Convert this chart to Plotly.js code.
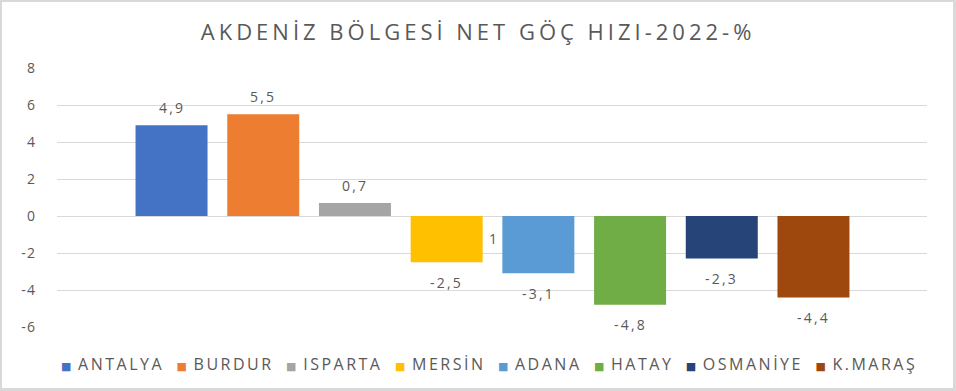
<!DOCTYPE html>
<html>
<head>
<meta charset="utf-8">
<script src="https://cdn.plot.ly/plotly-3.0.1.min.js"></script>
<style>
  html, body { margin: 0; padding: 0; background: #ffffff; }
  #wrap { position: relative; width: 956px; height: 391px; }
  #chart { width: 956px; height: 391px; }
  #frame { position: absolute; left: 0; top: 0; width: 956px; height: 391px; box-sizing: border-box;
           border: 2px solid #d9d9d9; border-right-width: 3px; border-bottom-width: 3px; pointer-events: none; }
  #chart .ytick text { letter-spacing: 1.2px; }
</style>
</head>
<body>
<div id="wrap"><div id="chart"></div><div id="frame"></div></div>
<script>
// ---- data ----
const categories = ['ANTALYA', 'BURDUR', 'ISPARTA', 'MERSİN', 'ADANA', 'HATAY', 'OSMANİYE', 'K.MARAŞ'];
const values = [4.9, 5.5, 0.7, -2.5, -3.1, -4.8, -2.3, -4.4];
const colors = ['#4472C4', '#ED7D31', '#A5A5A5', '#FFC000', '#5B9BD5', '#70AD47', '#264478', '#9E480E'];
const tickValues = [-6, -4, -2, 0, 2, 4, 6, 8];
const tickLabels = ['-6', '-4', '-2', '0', '2', '4', '6', '8'];
const titleText = 'AKDENİZ BÖLGESİ NET GÖÇ HIZI-2022-%';
const strayLabelText = '1';
const strayLabelX = 3.5;
const strayLabelY = -1.19;

const textColor = '#595959';
const fontFamily = '"Open Sans", "DejaVu Sans", sans-serif';

const traces = categories.map((c, i) => ({
  type: 'bar',
  name: c,
  x: [c],
  y: [values[i]],
  marker: { color: colors[i] },
  hoverinfo: 'name+y',
  showlegend: false
}));

const fmt = v => String(v).replace('.', ',');
const spaced = (t, px) => '<span style="letter-spacing:' + px + 'px">' + t + '</span>';

const annotations = categories.map((c, i) => ({
  x: c, y: values[i], xref: 'x', yref: 'y',
  text: spaced(fmt(values[i]), 2.2),
  showarrow: false,
  yanchor: 'middle',
  yshift: values[i] >= 0 ? 18 : -20,
  font: { family: fontFamily, size: 14, color: textColor }
}));

annotations.push({
  x: strayLabelX, y: strayLabelY, xref: 'x', yref: 'y',
  text: strayLabelText, showarrow: false, yanchor: 'middle',
  font: { family: fontFamily, size: 14, color: textColor }
});

// legend row (built from categories + colors)
const legendText = categories.map((c, i) =>
  '<span style="color:' + colors[i] + ';font-size:11px">■</span>' +
  spaced('\u00A0' + c, 2.5)
).join('\u00A0\u00A0\u00A0');
annotations.push({
  x: 0.496, y: -0.142, xref: 'paper', yref: 'paper',
  xanchor: 'center', yanchor: 'middle',
  text: legendText, showarrow: false,
  font: { family: fontFamily, size: 16, color: textColor }
});

const layout = {
  width: 956, height: 391,
  margin: { l: 57, r: 29, t: 68, b: 64 },
  paper_bgcolor: '#ffffff', plot_bgcolor: '#ffffff',
  title: {
    text: spaced(titleText, 4.0),
    x: 0.484, xanchor: 'center', xref: 'paper',
    y: 1 - 32 / 391, yanchor: 'middle', yref: 'container',
    font: { family: fontFamily, size: 22, color: textColor }
  },
  barmode: 'overlay',
  bargap: 0.215,
  xaxis: {
    type: 'category',
    categoryorder: 'array', categoryarray: categories,
    range: [-1.249, 8.238],
    showticklabels: false, showgrid: false, zeroline: false, showline: false, ticks: ''
  },
  yaxis: {
    range: [-6, 8],
    tickmode: 'array', tickvals: tickValues, ticktext: tickLabels,
    showgrid: true, gridcolor: '#d9d9d9', gridwidth: 1,
    zeroline: true, zerolinecolor: '#d9d9d9', zerolinewidth: 1,
    showline: false,
    ticks: 'outside', ticklen: 17, tickcolor: 'rgba(0,0,0,0)',
    tickfont: { family: fontFamily, size: 14, color: textColor }
  },
  annotations: annotations,
  showlegend: false
};

Plotly.newPlot('chart', traces, layout, { displayModeBar: false, staticPlot: true });
</script>
</body>
</html>
